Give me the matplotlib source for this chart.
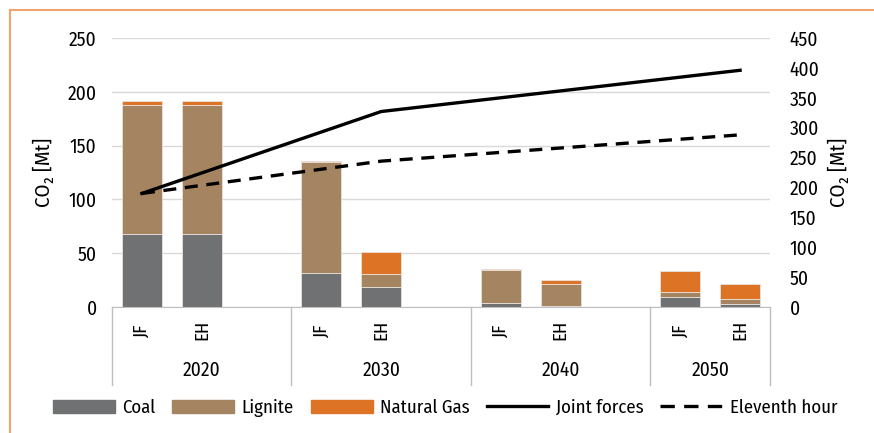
import matplotlib
matplotlib.use('Agg')
import matplotlib.pyplot as plt
from matplotlib.lines import Line2D
from matplotlib.patches import Patch
import numpy as np

plt.rcParams['font.family'] = ['Fira Sans Condensed', 'DejaVu Sans']

years = ['2020', '2030', '2040', '2050']
scenarios = ['JF', 'EH']
# stacked bar values, order: 2020 JF, 2020 EH, 2030 JF, 2030 EH, 2040 JF, 2040 EH, 2050 JF, 2050 EH
coal = [68, 68, 31.5, 19, 3.4, 0.8, 9, 3]
lignite = [120, 120, 103, 11.5, 30.7, 20.3, 5, 4.4]
gas = [3, 3, 1.5, 20.5, 1.2, 3.7, 19, 14]
# lines (secondary axis), values at 2020 JF, 2030 EH, 2050 EH
line_pos = [0, 4, 10]
joint_forces = [190, 327, 396]
eleventh_hour = [190, 244, 288]

c_coal = '#707173'
c_lig = '#A58461'
c_gas = '#DD7425'
c_grid = '#D9D9D9'

W, H = 874, 433
fig = plt.figure(figsize=(W / 100, H / 100), dpi=100)
ax = fig.add_axes([112 / W, (H - 307) / H, 658 / W, 269 / H])

# slot positions: 3 slots per year (JF, EH, gap), last year has no gap
xpos = []
for i in range(len(years)):
    for j in range(len(scenarios)):
        xpos.append(i * 3 + j)
xpos = np.array(xpos)
coal = np.array(coal)
lignite = np.array(lignite)
gas = np.array(gas)

bw = 0.67
ek = dict(edgecolor='#E8E2DC', linewidth=0.6)
ax.bar(xpos, coal, bw, color=c_coal, zorder=2, **ek)
ax.bar(xpos, lignite, bw, bottom=coal, color=c_lig, zorder=2, **ek)
ax.bar(xpos, gas, bw, bottom=coal + lignite, color=c_gas, zorder=2, **ek)

ax.set_xlim(-0.5, 10.5)
ax.set_ylim(0, 250)
ax.set_yticks(np.arange(0, 251, 50))
ax.yaxis.grid(True, color=c_grid, linewidth=1)
ax.set_axisbelow(True)
for s in ['left', 'right', 'top']:
    ax.spines[s].set_visible(False)
ax.spines['bottom'].set_color('#BFBFBF')
ax.set_xticks([])
ax.tick_params(axis='y', length=0, pad=11, labelsize=14)
ax.set_ylabel('CO₂ [Mt]', fontsize=15, labelpad=10)

# category labels
tr = ax.get_xaxis_transform()
for i, y in enumerate(years):
    for j, s in enumerate(scenarios):
        ax.text(i * 3 + j, -0.085, s, transform=tr, rotation=90, ha='center', va='center', fontsize=13.5)
    right = i * 3 + 2.5 if i < len(years) - 1 else 10.5
    ax.text((i * 3 - 0.5 + right) / 2, -0.235, y, transform=tr, ha='center', va='center', fontsize=14)
for b in [-0.5, 2.5, 5.5, 8.5, 10.5]:
    ax.plot([b, b], [0, -0.29], transform=tr, color='#BFBFBF', linewidth=1, clip_on=False)

ax2 = ax.twinx()
ax2.plot(line_pos, joint_forces, color='black', linewidth=2.4, zorder=3)
ax2.plot(line_pos, eleventh_hour, color='black', linewidth=2.4, linestyle=(0, (3.9, 2.6)), zorder=3)
ax2.set_ylim(0, 450)
ax2.set_yticks(np.arange(0, 451, 50))
for s in ax2.spines.values():
    s.set_visible(False)
ax2.tick_params(axis='y', length=0, pad=14, labelsize=14)
ax2.set_ylabel('CO₂ [Mt]', fontsize=15, labelpad=6)

handles = [Patch(color=c_coal), Patch(color=c_lig), Patch(color=c_gas),
           Line2D([], [], color='black', linewidth=2.4),
           Line2D([], [], color='black', linewidth=2.4, linestyle=(0, (4.3, 2.8)))]
labels = ['Coal', 'Lignite', 'Natural Gas', 'Joint forces', 'Eleventh hour']
fig.legend(handles, labels, loc='center', bbox_to_anchor=(445 / W, 1 - 408 / H), ncol=5,
           frameon=False, fontsize=13.5, handlelength=3.3, handletextpad=0.4, columnspacing=0.9)

# partial frame
fig.add_artist(Line2D([10 / W, 10 / W], [0, 1 - 10 / H], color='#F2A46E', linewidth=1.5))
fig.add_artist(Line2D([10 / W, 1], [1 - 10 / H, 1 - 10 / H], color='#F2A46E', linewidth=1.5))

fig.savefig('out.png', dpi=100)
